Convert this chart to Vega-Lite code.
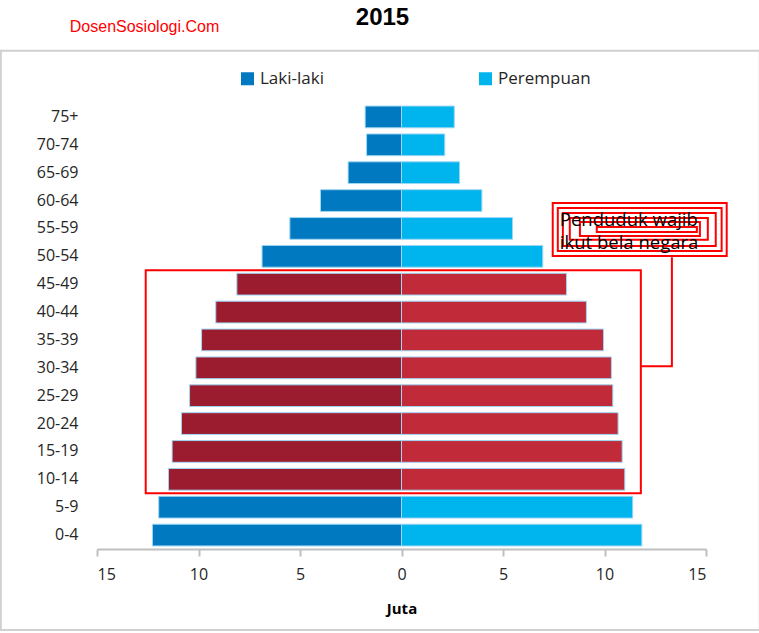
{
  "$schema": "https://vega.github.io/schema/vega-lite/v6.json",
  "width": 609,
  "height": 446,
  "autosize": "none",
  "padding": {"left": 97, "top": 103, "right": 53, "bottom": 84},
  "background": "white",
  "config": {"view": {"stroke": null}, "font": "Open Sans"},
  "title": {
    "text": "2015",
    "font": "Liberation Sans",
    "fontSize": 24,
    "fontWeight": "bold",
    "color": "#000000",
    "anchor": "middle",
    "frame": "group",
    "dx": -19,
    "offset": 0,
    "dy": 11
  },
  "datasets": {
    "pyramid": [
      {"umur": "75+", "jenis": "Laki-laki", "juta": -1.79},
      {"umur": "70-74", "jenis": "Laki-laki", "juta": -1.72},
      {"umur": "65-69", "jenis": "Laki-laki", "juta": -2.63},
      {"umur": "60-64", "jenis": "Laki-laki", "juta": -3.99},
      {"umur": "55-59", "jenis": "Laki-laki", "juta": -5.5},
      {"umur": "50-54", "jenis": "Laki-laki", "juta": -6.87},
      {"umur": "45-49", "jenis": "Laki-laki", "juta": -8.11},
      {"umur": "40-44", "jenis": "Laki-laki", "juta": -9.15},
      {"umur": "35-39", "jenis": "Laki-laki", "juta": -9.85},
      {"umur": "30-34", "jenis": "Laki-laki", "juta": -10.13},
      {"umur": "25-29", "jenis": "Laki-laki", "juta": -10.44},
      {"umur": "20-24", "jenis": "Laki-laki", "juta": -10.84},
      {"umur": "15-19", "jenis": "Laki-laki", "juta": -11.3},
      {"umur": "10-14", "jenis": "Laki-laki", "juta": -11.48},
      {"umur": "5-9", "jenis": "Laki-laki", "juta": -11.96},
      {"umur": "0-4", "jenis": "Laki-laki", "juta": -12.27},
      {"umur": "75+", "jenis": "Perempuan", "juta": 2.6},
      {"umur": "70-74", "jenis": "Perempuan", "juta": 2.13},
      {"umur": "65-69", "jenis": "Perempuan", "juta": 2.86},
      {"umur": "60-64", "jenis": "Perempuan", "juta": 3.96},
      {"umur": "55-59", "jenis": "Perempuan", "juta": 5.47},
      {"umur": "50-54", "jenis": "Perempuan", "juta": 6.96},
      {"umur": "45-49", "jenis": "Perempuan", "juta": 8.13},
      {"umur": "40-44", "jenis": "Perempuan", "juta": 9.11},
      {"umur": "35-39", "jenis": "Perempuan", "juta": 9.95},
      {"umur": "30-34", "jenis": "Perempuan", "juta": 10.34},
      {"umur": "25-29", "jenis": "Perempuan", "juta": 10.41},
      {"umur": "20-24", "jenis": "Perempuan", "juta": 10.67},
      {"umur": "15-19", "jenis": "Perempuan", "juta": 10.87},
      {"umur": "10-14", "jenis": "Perempuan", "juta": 11.0},
      {"umur": "5-9", "jenis": "Perempuan", "juta": 11.39},
      {"umur": "0-4", "jenis": "Perempuan", "juta": 11.84}
    ],
    "frame": [
      {"x": -19.74, "x2": 17.65, "y": -1.87, "y2": 18.91}
    ],
    "highlight": [
      {"x": -12.6, "x2": 11.79, "y": 6, "y2": 14}
    ],
    "callout": [
      {"x": 7.45, "x2": 16.02, "y": 3.59, "y2": 5.49},
      {"x": 7.7, "x2": 15.77, "y": 3.77, "y2": 5.31},
      {"x": 7.95, "x2": 15.48, "y": 3.95, "y2": 5.13},
      {"x": 8.29, "x2": 15.09, "y": 4.13, "y2": 4.91},
      {"x": 8.79, "x2": 14.7, "y": 4.27, "y2": 4.77},
      {"x": 9.62, "x2": 14.55, "y": 4.45, "y2": 4.63}
    ],
    "connector": [
      {"urut": 1, "x": 13.32, "y": 5.53},
      {"urut": 2, "x": 13.32, "y": 9.44},
      {"urut": 3, "x": 11.79, "y": 9.44}
    ],
    "callout_text": [
      {"teks": "Penduduk wajib", "x": 7.8, "y": 4.2},
      {"teks": "ikut bela negara", "x": 7.8, "y": 5.02}
    ],
    "watermark": [
      {"teks": "DosenSosiologi.Com", "x": -16.34, "y": -2.73}
    ]
  },
  "layer": [
    {
      "data": {"name": "pyramid"},
      "encoding": {
        "y": {
          "field": "umur",
          "type": "ordinal",
          "sort": ["75+", "70-74", "65-69", "60-64", "55-59", "50-54", "45-49", "40-44", "35-39", "30-34", "25-29", "20-24", "15-19", "10-14", "5-9", "0-4"],
          "scale": {"paddingInner": 0.22, "paddingOuter": 0.11},
          "axis": {
            "title": null,
            "domain": false,
            "ticks": false,
            "labelPadding": 19,
            "labelFont": "Open Sans",
            "labelFontSize": 16,
            "labelColor": "#262626"
          }
        }
      },
      "layer": [
        {
          "mark": {"type": "bar", "stroke": "#9ED6F3", "strokeWidth": 1},
          "encoding": {
            "x": {
              "field": "juta",
              "type": "quantitative",
              "scale": {"domain": [-15, 15], "nice": false},
              "axis": {
                "values": [-15, -10, -5, 0, 5, 10, 15],
                "labelExpr": "format(abs(datum.value), 'd')",
                "title": "Juta",
                "titleFont": "Open Sans",
                "titleFontWeight": "bold",
                "titleFontSize": 15,
                "titleColor": "#000000",
                "titlePadding": 19,
                "labelFont": "Open Sans",
                "labelFontSize": 16,
                "labelColor": "#262626",
                "labelPadding": 10,
                "domainColor": "#BFBFBF",
                "domainWidth": 2,
                "tickColor": "#BFBFBF",
                "tickWidth": 2,
                "tickSize": 7,
                "grid": false
              }
            },
            "color": {
              "condition": [
                {"test": "datum.jenis == 'Laki-laki' && indexof(['10-14','15-19','20-24','25-29','30-34','35-39','40-44','45-49'], datum.umur) >= 0", "value": "#9C1C2F"},
                {"test": "datum.jenis == 'Perempuan' && indexof(['10-14','15-19','20-24','25-29','30-34','35-39','40-44','45-49'], datum.umur) >= 0", "value": "#C12A39"}
              ],
              "field": "jenis",
              "type": "nominal",
              "scale": {"domain": ["Laki-laki", "Perempuan"], "range": ["#0079C1", "#00B4EE"]},
              "legend": {
                "title": null,
                "orient": "none",
                "direction": "horizontal",
                "legendX": 142,
                "legendY": -33,
                "symbolType": "square",
                "symbolSize": 169,
                "symbolStrokeWidth": 0,
                "labelFont": "Open Sans",
                "labelFontSize": 17,
                "labelColor": "#262626",
                "labelOffset": 4,
                "columnPadding": 153
              }
            }
          }
        },
        {
          "mark": {"type": "rule", "color": "#A6A6A6", "strokeWidth": 2},
          "encoding": {"x": {"datum": 0, "type": "quantitative"}}
        }
      ]
    },
    {
      "encoding": {
        "y": {"field": "y", "type": "quantitative", "scale": {"domain": [0, 16], "reverse": true, "nice": false, "zero": false}, "axis": null},
        "x": {"field": "x", "type": "quantitative", "scale": {"domain": [-15, 15], "nice": false}, "axis": null}
      },
      "layer": [
        {
          "data": {"name": "frame"},
          "mark": {"type": "rect", "fill": null, "stroke": "#D0D0D0", "strokeWidth": 2, "clip": false},
          "encoding": {"x2": {"field": "x2"}, "y2": {"field": "y2"}}
        },
        {
          "data": {"name": "highlight"},
          "mark": {"type": "rect", "fill": null, "stroke": "#FF0000", "strokeWidth": 2, "clip": false},
          "encoding": {"x2": {"field": "x2"}, "y2": {"field": "y2"}}
        },
        {
          "data": {"name": "callout"},
          "mark": {"type": "rect", "fill": null, "stroke": "#FF0000", "strokeWidth": 2, "clip": false},
          "encoding": {"x2": {"field": "x2"}, "y2": {"field": "y2"}}
        },
        {
          "data": {"name": "connector"},
          "mark": {"type": "line", "color": "#FF0000", "strokeWidth": 2, "clip": false},
          "encoding": {"order": {"field": "urut", "type": "quantitative"}}
        },
        {
          "data": {"name": "callout_text"},
          "mark": {"type": "text", "align": "left", "baseline": "middle", "font": "Open Sans", "fontSize": 18.5, "color": "#000000", "clip": false},
          "encoding": {"text": {"field": "teks"}}
        },
        {
          "data": {"name": "watermark"},
          "mark": {"type": "text", "align": "left", "baseline": "middle", "font": "Liberation Sans", "fontSize": 16, "color": "#FF0000", "clip": false},
          "encoding": {"text": {"field": "teks"}}
        }
      ]
    }
  ],
  "resolve": {"scale": {"y": "independent"}, "axis": {"x": "independent", "y": "independent"}}
}
